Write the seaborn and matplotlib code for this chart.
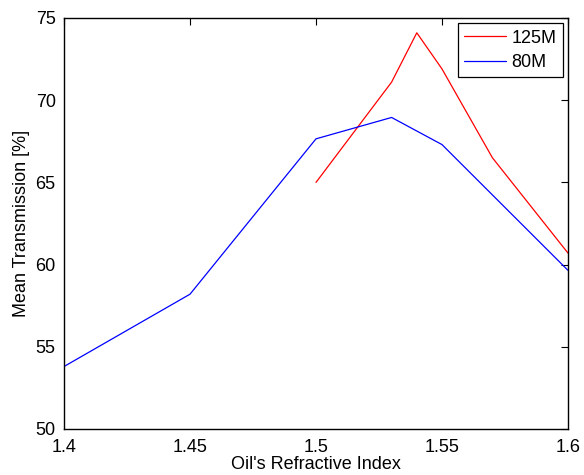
import matplotlib
matplotlib.use("Agg")
import matplotlib.pyplot as plt
import seaborn as sns
import pandas as pd

x_125 = [1.50, 1.53, 1.54, 1.55, 1.57, 1.60]
y_125 = [65.0, 71.1, 74.1, 71.9, 66.5, 60.7]
x_80 = [1.40, 1.45, 1.50, 1.53, 1.55, 1.60]
y_80 = [53.8, 58.2, 67.65, 68.95, 67.3, 59.65]
series = ["125M", "80M"]
colors = ["#ff0000", "#0000ff"]

df = pd.concat([
    pd.DataFrame({"x": x_125, "y": y_125, "s": series[0]}),
    pd.DataFrame({"x": x_80, "y": y_80, "s": series[1]}),
])

sns.set_style("white")
plt.rcParams['font.family'] = ['Liberation Sans', 'DejaVu Sans']
plt.rcParams['text.color'] = 'black'
plt.rcParams['axes.labelcolor'] = 'black'

W, H = 584, 475
fig = plt.figure(figsize=(W / 100, H / 100), dpi=100)
l, r, t, b = 64, 568, 18, 429
ax = fig.add_axes([l / W, (H - b) / H, (r - l) / W, (b - t) / H])
sns.lineplot(data=df, x="x", y="y", hue="s", palette=dict(zip(series, colors)),
             ax=ax, linewidth=0.9, sort=False, estimator=None)
ax.set_xlim(1.4, 1.6)
ax.set_ylim(50, 75)
ax.set_xticks([1.4, 1.45, 1.5, 1.55, 1.6])
ax.set_xticklabels(["1.4", "1.45", "1.5", "1.55", "1.6"])
ax.set_yticks([50, 55, 60, 65, 70, 75])
ax.tick_params(direction="in", length=5, width=0.8, top=True, right=True,
               labelsize=13, colors="black")
ax.tick_params(axis="x", pad=7)
ax.tick_params(axis="y", pad=6)
for sp in ax.spines.values():
    sp.set_color("black")
    sp.set_linewidth(1.0)
ax.set_xlabel("Oil's Refractive Index", fontsize=13, labelpad=0, color="black")
ax.set_ylabel("Mean Transmission [%]", fontsize=13, labelpad=4, color="black")
leg = ax.legend(loc="upper right", fontsize=13, frameon=True, fancybox=False,
                edgecolor="black", framealpha=1, borderpad=0.35, handlelength=2.3,
                handletextpad=0.3, labelspacing=0.4, borderaxespad=0.3)
leg.get_frame().set_linewidth(0.9)
for txt in leg.get_texts():
    txt.set_color("black")
fig.savefig("out.png", dpi=100)
